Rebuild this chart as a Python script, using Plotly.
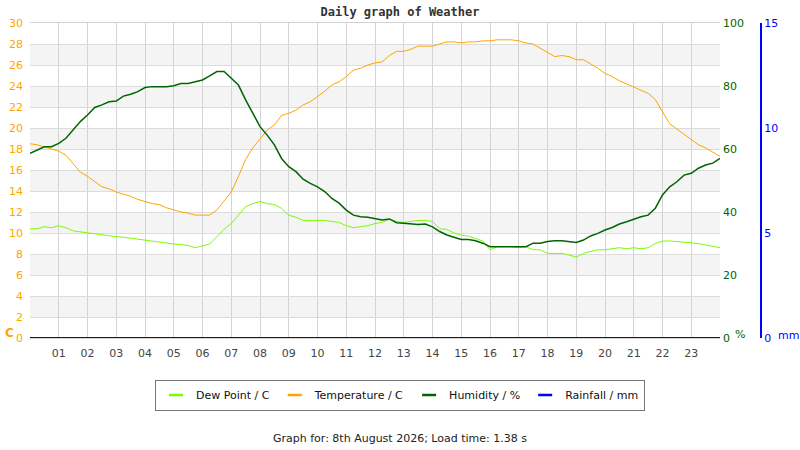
import plotly.graph_objects as go

# heures, toutes les 15 minutes
heures = [i / 4 for i in range(97)]

temperature = [
    18.5, 18.4, 18.2, 18.0, 17.8, 17.4, 16.6, 15.8,
    15.4, 14.9, 14.4, 14.2, 13.9, 13.7, 13.5, 13.2,
    13.0, 12.8, 12.7, 12.4, 12.2, 12.0, 11.9, 11.7,
    11.7, 11.7, 12.2, 13.0, 13.9, 15.4, 17.0, 18.1,
    19.0, 19.8, 20.3, 21.2, 21.4, 21.7, 22.2, 22.5,
    23.0, 23.5, 24.1, 24.4, 24.9, 25.5, 25.7, 26.0,
    26.2, 26.3, 26.9, 27.3, 27.3, 27.5, 27.8, 27.8,
    27.8, 28.0, 28.2, 28.2, 28.1, 28.2, 28.2, 28.3,
    28.3, 28.4, 28.4, 28.4, 28.3, 28.1, 28.0, 27.6,
    27.2, 26.8, 26.9, 26.8, 26.5, 26.5, 26.1, 25.7,
    25.2, 24.9, 24.5, 24.2, 23.9, 23.6, 23.3, 22.7,
    21.6, 20.4, 19.9, 19.4, 18.9, 18.4, 18.1, 17.7,
    17.3,
]

point_de_rosee = [
    10.4, 10.4, 10.6, 10.5, 10.7, 10.5, 10.2, 10.1,
    10.0, 9.9, 9.8, 9.75, 9.65, 9.6, 9.5, 9.4,
    9.33, 9.27, 9.17, 9.0, 8.95, 8.9, 8.8, 8.6,
    8.76, 8.95, 9.65, 10.35, 10.9, 11.7, 12.5, 12.8,
    13.0, 12.8, 12.7, 12.35, 11.7, 11.5, 11.2, 11.2,
    11.2, 11.2, 11.1, 11.0, 10.7, 10.5, 10.6, 10.7,
    10.9, 11.0, 11.3, 11.1, 11.0, 11.1, 11.2, 11.2,
    11.1, 10.4, 10.35, 10.0, 9.8, 9.7, 9.5, 9.24,
    8.4, 8.7, 8.7, 8.7, 8.6, 8.7, 8.4, 8.4,
    8.06, 8.06, 8.06, 7.9, 7.7, 8.06, 8.2, 8.4,
    8.4, 8.5, 8.6, 8.5, 8.6, 8.5, 8.6, 9.0,
    9.24, 9.24, 9.17, 9.17, 9.08, 9.0, 8.86, 8.7,
    8.6,
]

humidite = [
    58.6, 59.7, 60.7, 60.7, 61.8, 63.4, 66.2, 68.7,
    70.8, 73.2, 74.0, 75.0, 75.2, 76.8, 77.4, 78.2,
    79.5, 79.8, 79.8, 79.8, 80.1, 80.8, 80.8, 81.4,
    81.9, 83.2, 84.6, 84.6, 82.4, 80.3, 75.6, 71.3,
    67.1, 64.4, 61.3, 57.0, 54.4, 52.8, 50.4, 49.1,
    48.0, 46.5, 44.3, 42.8, 40.6, 39.0, 38.5, 38.3,
    38.0, 37.5, 37.8, 36.6, 36.4, 36.2, 36.0, 36.2,
    35.3, 33.8, 32.7, 32.0, 31.3, 31.3, 30.9, 30.1,
    29.0, 29.0, 29.0, 29.0, 29.0, 29.0, 30.1, 30.1,
    30.6, 30.9, 30.9, 30.6, 30.3, 31.1, 32.4, 33.2,
    34.3, 35.1, 36.2, 36.9, 37.8, 38.5, 39.0, 41.2,
    45.4, 48.0, 49.6, 51.7, 52.3, 53.9, 54.9, 55.5,
    57.0,
]

pluie = [0.0] * 97

etiquettes_heures = ["%02d" % h for h in range(1, 24)]

series = [
    ("Dew Point / C", point_de_rosee, "y", "#7cfc00", 1),
    ("Temperature / C", temperature, "y", "#ffa500", 1),
    ("Humidity / %", humidite, "y2", "#006400", 1.5),
    ("Rainfall / mm", pluie, "y3", "#0000ff", 2),
]

fig = go.Figure()

for nom, valeurs, axe, couleur, epaisseur in series:
    fig.add_trace(go.Scatter(x=heures, y=valeurs, name=nom, yaxis=axe, mode="lines",
                             line=dict(color=couleur, width=epaisseur), showlegend=False))

# entrées de légende courtes (petit trait épais)
for nom, valeurs, axe, couleur, epaisseur in series:
    fig.add_trace(go.Scatter(x=[None], y=[None], name=nom, mode="markers",
                             marker=dict(symbol="line-ew-open", size=10, color=couleur,
                                         line=dict(color=couleur, width=2.5))))

# bandes grises alternées
for b in range(2, 30, 4):
    fig.add_shape(type="rect", xref="x", yref="y", x0=0, x1=24, y0=b, y1=b + 2,
                  fillcolor="#f4f4f4", line_width=0, layer="below")

police = "DejaVu Sans"

fig.update_layout(
    width=800, height=450,
    margin=dict(l=30, r=30, t=23, b=112),
    plot_bgcolor="white", paper_bgcolor="white",
    font=dict(family=police, size=11, color="#444"),
    title=dict(text="<b>Daily graph of Weather</b>", x=0.5, xanchor="center",
               y=1 - 12 / 450, yanchor="middle", yref="container",
               font=dict(family="DejaVu Sans Mono", size=12, color="#333")),
    xaxis=dict(range=[0, 24], domain=[0, 690 / 740], tickvals=list(range(1, 24)),
               ticktext=etiquettes_heures, showgrid=True, gridcolor="#d3d3d3",
               showline=True, mirror=True, linecolor="#d3d3d3", zeroline=False,
               ticks="", ticklabelstandoff=5, automargin=False,
               tickfont=dict(size=11, color="#444")),
    yaxis=dict(range=[0, 30], dtick=2, showgrid=True, gridcolor="#dcdcdc",
               zeroline=False, tickfont=dict(size=11, color="#ffa500"), ticks="",
               ticklabelstandoff=6, automargin=False),
    yaxis2=dict(range=[0, 100], dtick=20, overlaying="y", side="right", anchor="x",
                showgrid=False, zeroline=False, ticklabelstandoff=2, automargin=False,
                tickfont=dict(size=11, color="#006400")),
    yaxis3=dict(range=[0, 15], dtick=5, overlaying="y", side="right", anchor="free",
                position=(761 - 30) / 740, showgrid=False, zeroline=False,
                showline=True, linecolor="#0000ff", linewidth=2, automargin=False,
                tickfont=dict(size=11, color="#0000ff")),
    legend=dict(orientation="h", x=0.5, xanchor="center", y=(338 - 395) / 315,
                yanchor="middle", bordercolor="#777", borderwidth=1,
                font=dict(size=11, color="#111"), itemwidth=30),
)

fig.add_annotation(text="<b>C</b>", xref="paper", yref="paper", x=(9 - 30) / 740,
                   xanchor="center", y=(338 - 333) / 315, yanchor="middle",
                   showarrow=False, font=dict(color="#ffa500", size=12))
fig.add_annotation(text="%", xref="paper", yref="paper", x=(740 - 30) / 740,
                   xanchor="center", y=(338 - 334) / 315, yanchor="middle",
                   showarrow=False, font=dict(color="#006400", size=11))
fig.add_annotation(text="mm", xref="paper", yref="paper", x=(776 - 30) / 740,
                   xanchor="left", y=(338 - 335) / 315, yanchor="middle",
                   showarrow=False, font=dict(color="#0000ff", size=11))
fig.add_annotation(text="Graph for: 8th August 2026; Load time: 1.38 s", xref="paper",
                   yref="paper", x=0.5, xanchor="center", y=(338 - 438) / 315,
                   yanchor="middle", showarrow=False, font=dict(color="#222", size=11))

fig.write_html("out.html", config={"displayModeBar": False},
               post_script="document.body.style.margin='0px';")
